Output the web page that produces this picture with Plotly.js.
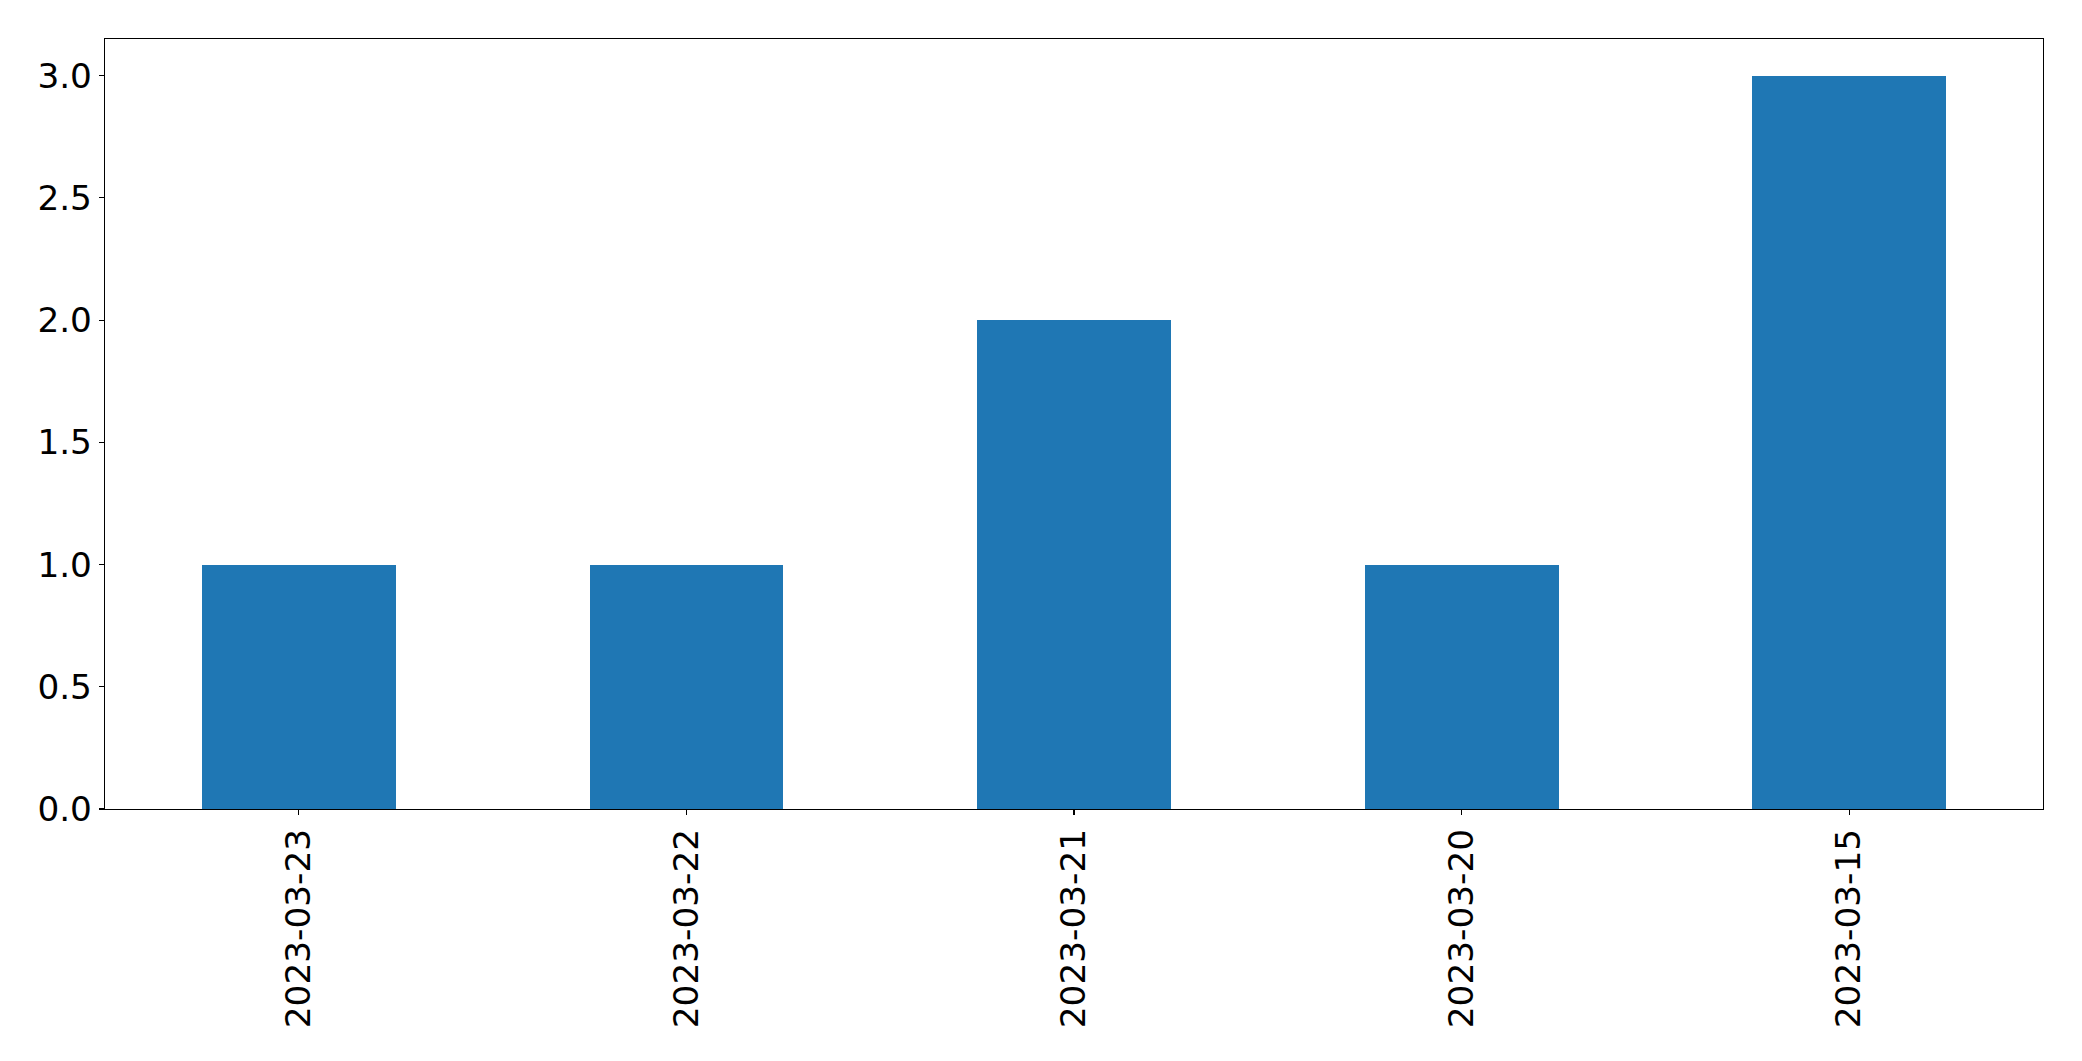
<!DOCTYPE html>
<html>
<head>
<meta charset="utf-8">
<script src="https://cdn.plot.ly/plotly-3.0.1.min.js"></script>
<style>html,body{margin:0;padding:0;background:#fff;}#chart{width:2082px;height:1061px;}</style>
</head>
<body>
<div id="chart"></div>
<script>
const categories = ["2023-03-23", "2023-03-22", "2023-03-21", "2023-03-20", "2023-03-15"];
const counts = [1, 1, 2, 1, 3];
const yTicks = [0, 0.5, 1, 1.5, 2, 2.5, 3];
const yTickLabels = ["0.0", "0.5", "1.0", "1.5", "2.0", "2.5", "3.0"];

const trace = {
  type: "bar",
  x: categories,
  y: counts,
  width: 0.5,
  marker: {color: "#1f77b4", line: {width: 0}},
  hoverinfo: "x+y"
};

const axisCommon = {
  showline: true,
  linecolor: "#000",
  linewidth: 1.2,
  mirror: true,
  showgrid: false,
  zeroline: false,
  ticks: "outside",
  ticklen: 5,
  tickwidth: 1.2,
  tickcolor: "#000",
  tickfont: {family: "DejaVu Sans", size: 34.3, color: "#000"}
};

const layout = {
  width: 2082,
  height: 1061,
  margin: {l: 105, r: 39, t: 39, b: 252, pad: 0},
  paper_bgcolor: "#fff",
  plot_bgcolor: "#fff",
  showlegend: false,
  bargap: 0,
  xaxis: Object.assign({}, axisCommon, {
    type: "category",
    range: [-0.5, 4.5],
    tickangle: -90,
    ticklabelstandoff: 0
  }),
  yaxis: Object.assign({}, axisCommon, {
    range: [0, 3.15],
    tickvals: yTicks,
    ticktext: yTickLabels,
    ticklabelstandoff: 0
  })
};

Plotly.newPlot("chart", [trace], layout, {displayModeBar: false, staticPlot: true});
</script>
</body>
</html>
